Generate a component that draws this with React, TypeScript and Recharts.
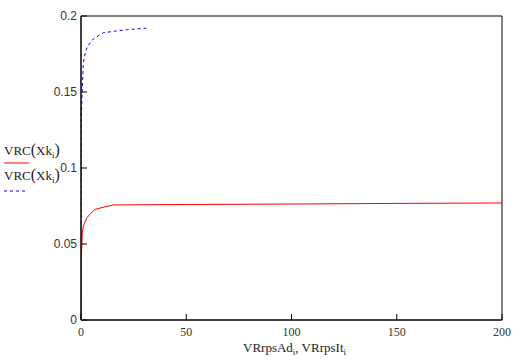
import * as React from 'react';
import { LineChart, Line, XAxis, YAxis, ReferenceArea } from 'recharts';

// VRrpsAd (red) and VRrpsIt (blue dashed)
const adX = [0, 0.1, 0.3, 0.6, 1.2, 2.7, 4.5, 6.7, 10, 15.4, 50, 100, 150, 200];
const adY = [0, 0.03, 0.046, 0.057, 0.062, 0.067, 0.07, 0.0728, 0.074, 0.0757, 0.076, 0.0763, 0.0767, 0.077];
const itX = [0, 0.05, 0.3, 0.6, 1.1, 1.9, 3, 5.9, 10.6, 16, 22, 31];
const itY = [0, 0.12, 0.14, 0.151, 0.169, 0.175, 0.18, 0.185, 0.189, 0.19, 0.191, 0.192];
const xTicks = [0, 50, 100, 150, 200];
const yTicks = [0, 0.05, 0.1, 0.15, 0.2];

const adData = adX.map((x, i) => ({ x, y: adY[i] }));
const itData = itX.map((x, i) => ({ x, y: itY[i] }));

const serif = '"Liberation Serif", serif';
const sans = '"Liberation Sans", Arial, sans-serif';

const YTick = (props: any) => {
    const { x, y, payload } = props;
    return (
        <g>
            <line x1={x + 4} x2={x + 10} y1={y} y2={y} stroke="#000" />
            <text x={x} y={y} dy={4} textAnchor="end" fontSize={12} fontFamily={sans} fill="#333">
                {payload.value}
            </text>
        </g>
    );
};

const XTick = (props: any) => {
    const { x, y, payload } = props;
    return (
        <g>
            <line x1={x} x2={x} y1={y - 4} y2={y - 10} stroke="#000" />
            <text x={x} y={y} dy={12} textAnchor="middle" fontSize={12} fontFamily={serif} fill="#333">
                {payload.value}
            </text>
        </g>
    );
};

const Vrc = (props: { x: number; y: number }) => (
    <text x={props.x} y={props.y} fontSize={13} fontFamily={serif} fill="#222">
        VRC
        <tspan fontSize={16}>(</tspan>Xk
        <tspan fontSize={9} dy={3}>i</tspan>
        <tspan fontSize={16} dy={-3}>)</tspan>
    </text>
);

export default function App() {
    return (
        <div style={{ position: 'absolute', left: 0, top: 0, width: 520, height: 360, background: '#fff' }}>
            <LineChart width={520} height={360} margin={{ top: 16, right: 18, bottom: 10, left: 21 }}>
                <XAxis
                    type="number"
                    dataKey="x"
                    domain={[0, 200]}
                    ticks={xTicks}
                    height={30}
                    tickSize={0}
                    tickMargin={4}
                    tickLine={false}
                    tick={<XTick />}
                    axisLine={{ stroke: '#000' }}
                    allowDataOverflow
                />
                <YAxis
                    type="number"
                    dataKey="y"
                    domain={[0, 0.2]}
                    ticks={yTicks}
                    width={60}
                    tickSize={0}
                    tickMargin={4}
                    tickLine={false}
                    tick={<YTick />}
                    axisLine={{ stroke: '#000' }}
                    allowDataOverflow
                />
                <ReferenceArea x1={0} x2={200} y1={0} y2={0.2} fill="none" stroke="#000" strokeWidth={1} />
                <Line data={itData} dataKey="y" type="linear" stroke="#0000ff" strokeDasharray="3 3" dot={false} isAnimationActive={false} />
                <Line data={adData} dataKey="y" type="linear" stroke="#ff0000" dot={false} isAnimationActive={false} />
            </LineChart>
            <svg width={520} height={360} style={{ position: 'absolute', left: 0, top: 0, pointerEvents: 'none' }}>
                <Vrc x={4} y={155} />
                <line x1={4} x2={29} y1={163} y2={163} stroke="#ff0000" />
                <Vrc x={4} y={180} />
                <line x1={4} x2={26} y1={191} y2={191} stroke="#0000ff" strokeDasharray="3 3" />
                <text x={243} y={352} fontSize={13} fontFamily={serif} fill="#222">
                    VRrpsAd<tspan fontSize={9} dy={3}>i</tspan>
                    <tspan dy={-3}>, VRrpsIt</tspan>
                    <tspan fontSize={9} dy={3}>i</tspan>
                </text>
            </svg>
        </div>
    );
}
